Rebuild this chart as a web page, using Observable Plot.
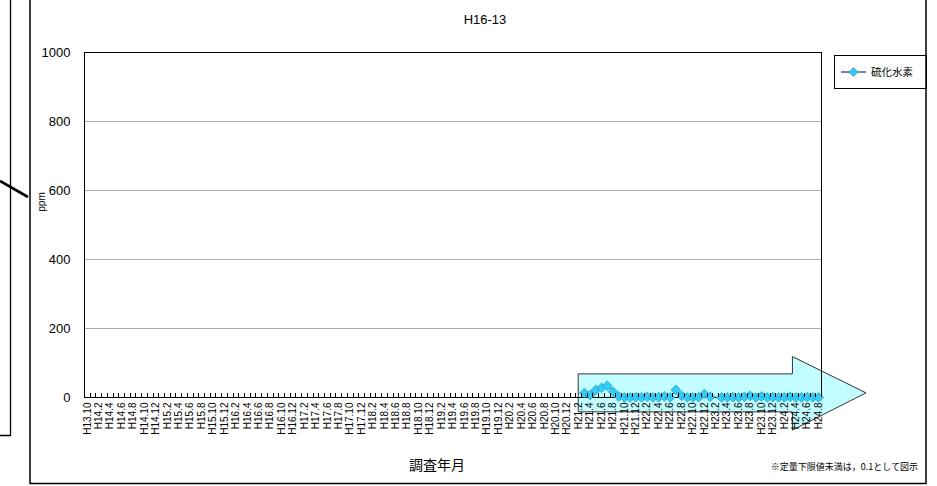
<!DOCTYPE html>
<html><head><meta charset="utf-8">
<script src="https://cdn.jsdelivr.net/npm/d3@7"></script>
<script src="https://cdn.jsdelivr.net/npm/@observablehq/plot@0.6"></script>
<style>
body{margin:0;background:#fff}
#chart{position:relative;width:937px;height:486px;overflow:hidden}
</style>
</head><body><div id="chart"></div>
<script>
// ---- data ----
const categories = [
 "H13.10",
 "H14.1","H14.2","H14.3","H14.4","H14.5","H14.6","H14.7","H14.8","H14.9","H14.10","H14.11","H14.12",
 "H15.1","H15.2","H15.3","H15.4","H15.5","H15.6","H15.7","H15.8","H15.9","H15.10","H15.11","H15.12",
 "H16.1","H16.2","H16.3","H16.4","H16.5","H16.6","H16.7","H16.8","H16.9","H16.10","H16.11","H16.12",
 "H17.1","H17.2","H17.3","H17.4","H17.5","H17.6","H17.7","H17.8","H17.9","H17.10","H17.11","H17.12",
 "H18.1","H18.2","H18.3","H18.4","H18.5","H18.6","H18.7","H18.8","H18.9","H18.10","H18.11","H18.12",
 "H19.1","H19.2","H19.3","H19.4","H19.5","H19.6","H19.7","H19.8","H19.9","H19.10","H19.11","H19.12",
 "H20.1","H20.2","H20.3","H20.4","H20.5","H20.6","H20.7","H20.8","H20.9","H20.10","H20.11","H20.12",
 "H21.1","H21.2","H21.3","H21.4","H21.5","H21.6","H21.7","H21.8","H21.9","H21.10","H21.11","H21.12",
 "H22.1","H22.2","H22.3","H22.4","H22.5","H22.6","H22.7","H22.8","H22.9","H22.10","H22.11","H22.12",
 "H23.1","H23.2","H23.3","H23.4","H23.5","H23.6","H23.7","H23.8","H23.9","H23.10","H23.11","H23.12",
 "H24.1","H24.2","H24.3","H24.4","H24.5","H24.6","H24.7","H24.8"
];
const labelCategories = categories.filter((d, i) => i % 2 === 0);
const yTicks = [0, 200, 400, 600, 800, 1000];
const seriesName = "硫化水素";
const surveyDates = [
 "H21.3","H21.4","H21.5","H21.6","H21.7","H21.8","H21.9","H21.10","H21.11","H21.12",
 "H22.1","H22.2","H22.3","H22.4","H22.5","H22.6","H22.7","H22.8","H22.9","H22.10","H22.11","H22.12",
 "H23.1","H23.2","H23.3","H23.4","H23.5","H23.6","H23.7","H23.8","H23.9","H23.10","H23.11","H23.12",
 "H24.1","H24.2","H24.3","H24.4","H24.5","H24.6","H24.7","H24.8"
];
const h2sValues = [
 13, 7, 22, 28, 34, 17, 3, 0.1, 0.1, 1,
 0.1, 2, 0.1, 1, 3, 0.1, 22, 5, 0.1, 0.1, 1, 10,
 2, null, 0.1, 0.1, 1, 0.1, 2, 5, 0.1, 3, 0.1, 1,
 0.1, 0.1, 2, 0.1, 0.1, 1, 0.1, 0.1
];
const titleText = "H16-13";
const yLabel = "ppm";
const xTitle = "調査年月";
const noteText = "※定量下限値未満は，0.1として図示";
// annotation arrow (category / ppm units)
const arrowFrom = "H21.2", arrowHead = "H24.4";

const data = surveyDates.map((d, i) => ({date: d, value: h2sValues[i]}));

const JP = "'Noto Sans CJK JP', 'Liberation Sans', sans-serif";
const LAT = "'Liberation Sans', Arial, sans-serif";

const plot = Plot.plot({
  width: 937, height: 486,
  marginLeft: 84, marginRight: 116, marginTop: 52, marginBottom: 89,
  style: {fontFamily: LAT, background: "#fff", color: "#000", overflow: "visible"},
  x: {type: "point", domain: categories, padding: 0.5, label: null},
  y: {domain: [0, 1000], label: null},
  marks: [
    Plot.gridY(yTicks.filter(d => d > 0 && d < 1000), {stroke: "#8a8a8a", strokeOpacity: 1, strokeWidth: 0.7}),
    Plot.axisY(yTicks, {tickSize: 0, tickPadding: 14, fontSize: 13, label: null, tickFormat: d => String(d)}),
    Plot.axisX(labelCategories, {tickSize: 0, tickPadding: 5, tickRotate: -90, fontSize: 10, label: null}),
    Plot.frame({stroke: "#000", strokeWidth: 1}),
    Plot.line(data, {x: "date", y: "value", stroke: "#000080", strokeWidth: 1}),
    Plot.dot(data, {x: "date", y: "value", symbol: "diamond2", r: 4.4, fill: "#33CCF5", stroke: "#1a8fc0", strokeWidth: 0.6})
  ]
});

document.getElementById("chart").appendChild(plot);

const svg = d3.select(plot);
const xs = plot.scale("x"), ys = plot.scale("y");
const step = xs.apply(categories[1]) - xs.apply(categories[0]);
const x0 = xs.apply(categories[0]) - step / 2;
const xEnd = xs.apply(categories[categories.length - 1]) + step / 2;
const yBase = ys.apply(0);

// arrow annotation, behind everything
const aL = xs.apply(arrowFrom), aH = xs.apply(arrowHead) - step / 2, aT = xEnd + 45;
const pts = [
  [aL, ys.apply(67)], [aH, ys.apply(67)], [aH, ys.apply(117)], [aT, ys.apply(12)],
  [aH, ys.apply(-96)], [aH, ys.apply(-43)], [aL, ys.apply(-43)]
];
svg.insert("path", ":scope > :not(style)")
  .attr("d", "M" + pts.map(p => p.join(",")).join("L") + "Z")
  .attr("fill", "#8ffcff").attr("fill-opacity", 0.55)
  .attr("stroke", "#333").attr("stroke-width", 1);

// category tick marks (inside, at boundaries)
const tg = svg.append("g").attr("stroke", "#000").attr("stroke-width", 1);
for (let i = 0; i <= categories.length; i++) {
  const xx = Math.round(x0 + i * step) + 0.5;
  tg.append("line").attr("x1", xx).attr("x2", xx).attr("y1", yBase).attr("y2", yBase - 4);
}

// title, axis titles, note
svg.append("text").attr("x", 485).attr("y", 24).attr("text-anchor", "middle")
  .attr("font-family", LAT).attr("font-size", 13).text(titleText);
svg.append("text").attr("transform", "translate(45,202) rotate(-90)").attr("text-anchor", "middle")
  .attr("font-family", LAT).attr("font-size", 10).text(yLabel);
svg.append("text").attr("x", 437).attr("y", 470).attr("text-anchor", "middle")
  .attr("font-family", JP).attr("font-size", 14).text(xTitle);
svg.append("text").attr("x", 918).attr("y", 470).attr("text-anchor", "end")
  .attr("font-family", JP).attr("font-size", 9).text(noteText);

// legend
const lg = svg.append("g");
lg.append("rect").attr("x", 834.5).attr("y", 55.5).attr("width", 92).attr("height", 33)
  .attr("fill", "#fff").attr("stroke", "#000");
lg.append("line").attr("x1", 841).attr("x2", 866).attr("y1", 72).attr("y2", 72).attr("stroke", "#000080");
lg.append("path").attr("d", "M853.5,67.5L858,72L853.5,76.5L849,72Z").attr("fill", "#33CCF5").attr("stroke", "#1a8fc0").attr("stroke-width", 0.6);
lg.append("text").attr("x", 871).attr("y", 76).attr("text-anchor", "start")
  .attr("font-family", JP).attr("font-size", 10.5).text(seriesName);

// outer chart borders (cropped)
const bg = svg.append("g").attr("stroke", "#000").attr("fill", "none");
bg.append("path").attr("d", "M30,0V483.5H926V0").attr("stroke-width", 1.5);
bg.append("path").attr("d", "M10.5,0V435.5H0").attr("stroke-width", 1.3);
bg.append("line").attr("x1", 0).attr("y1", 181).attr("x2", 28).attr("y2", 197).attr("stroke-width", 2.6);
</script>
</body></html>
